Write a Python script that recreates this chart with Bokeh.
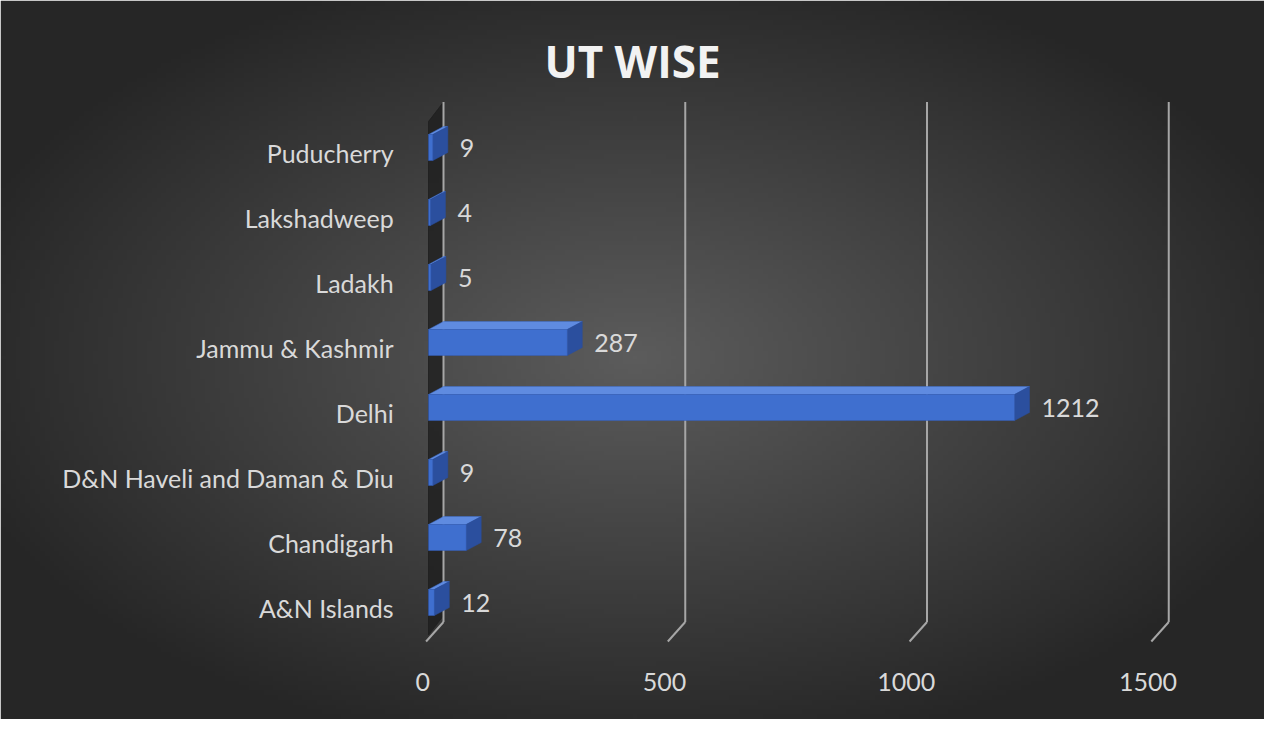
import numpy as np
from bokeh.plotting import figure
from bokeh.models import Range1d
from bokeh.core.properties import value
from bokeh.embed import file_html
from bokeh.resources import INLINE

categories = ["A&N Islands", "Chandigarh", "D&N Haveli and Daman & Diu", "Delhi",
              "Jammu & Kashmir", "Ladakh", "Lakshadweep", "Puducherry"]
counts = [12, 78, 9, 1212, 287, 5, 4, 9]
ticks = [0, 500, 1000, 1500]

W, H = 1264, 719
k = 0.4835            # px per unit
x0 = -428 / k
x1 = (W - 428) / k
y_top, y_bot = 602 / 65, (602 - H) / 65

p = figure(width=W, height=H, output_backend="svg", toolbar_location=None,
           x_range=Range1d(x0, x1), y_range=Range1d(y_bot, y_top),
           min_border=0, outline_line_color=None)
p.axis.visible = False
p.grid.visible = False

# radial gradient background
ny, nx = 150, 260
yy, xx = np.mgrid[0:ny, 0:nx]
d = np.sqrt(((xx - nx / 2) / (nx / 2)) ** 2 + ((yy - ny / 2) / (ny / 2)) ** 2)
g = np.clip(92 - 48 * d, 38, 92).astype(np.uint32)
img = (255 << 24) | (g << 16) | (g << 8) | g
p.image_rgba(image=[img], x=x0, y=y_bot, dw=x1 - x0, dh=y_top - y_bot)

dx = 15 / k     # depth in units
dy = 8 / 65
dep = 0.2

# back wall / axis wall
p.patch([0, dx, dx, 0], [-0.5, -0.5 + 0.3, 7.7, 7.7 - 0.3], color="#1e1e1e", alpha=0.8)

# gridlines
for t in ticks:
    p.line([t + dx, t + dx], [-0.3, 7.7], line_color="#a6a6a6", line_width=2)
    p.line([t + dx, t - 5], [-0.3, -0.6], line_color="#a6a6a6", line_width=2)
    p.text([t - 12], [-1.23], text=[str(t)], text_align="center", text_baseline="middle",
           text_color="#d9d9d9", text_font=value("Lato"), text_font_size="25px")

idx = list(range(len(categories)))
# bars: top face, side face, front face
p.patches([[0, c, c + dx, dx] for c in counts],
          [[i + dep, i + dep, i + dep + dy, i + dep + dy] for i in idx],
          fill_color="#5f8be0", line_color="#3f6fcc", line_width=0.5)
p.patches([[c, c + dx, c + dx, c] for c in counts],
          [[i - dep, i - dep + dy, i + dep + dy, i + dep] for i in idx],
          fill_color="#2b4f9e", line_color="#2b4f9e", line_width=0.5)
p.quad(left=0, right=counts, bottom=[i - dep for i in idx], top=[i + dep for i in idx],
       fill_color="#3f6fcf", line_color="#345fb8", line_width=0.5)

p.text([c + dx + 12 / k for c in counts], idx, text=[str(c) for c in counts],
       text_align="left", text_baseline="middle", text_color="#d9d9d9",
       text_font=value("Lato"), text_font_size="25px")
p.text([-72] * len(idx), [i - 0.08 for i in idx], text=categories, text_align="right",
       text_baseline="middle", text_color="#d9d9d9", text_font=value("Lato"),
       text_font_size="25px")

p.text([(640 - 8 - 428) / k], [(602 - 60) / 65], text=["UT WISE"], text_align="center",
       text_baseline="middle", text_color="#f2f2f2", text_font=value("Open Sans"),
       text_font_size="44px", text_font_style="bold")

open("out.html", "w").write(file_html(p, INLINE))
